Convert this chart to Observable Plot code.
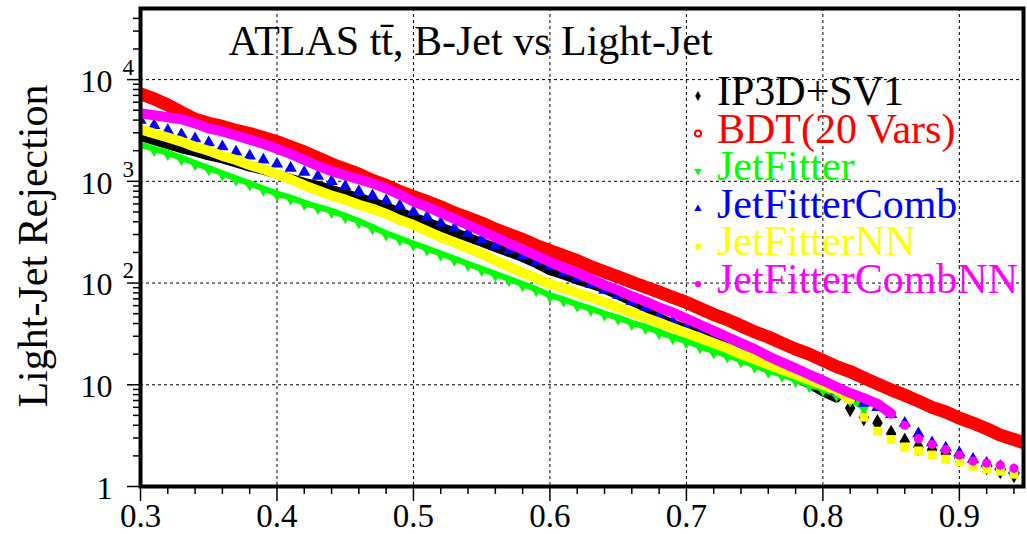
<!DOCTYPE html>
<html>
<head>
<meta charset="utf-8">
<script src="https://cdn.jsdelivr.net/npm/d3@7"></script>
<script src="https://cdn.jsdelivr.net/npm/@observablehq/plot@0.6"></script>
<style>
  html, body { margin: 0; padding: 0; background: #fff; }
  #chart { width: 1027px; height: 534px; }
</style>
</head>
<body>
<div id="chart"></div>
<script>
// b-tagging efficiency (x) and light-jet rejection (y) for each tagger
const efficiency = [0.30,0.31,0.32,0.33,0.34,0.35,0.36,0.37,0.38,0.39,
                    0.40,0.41,0.42,0.43,0.44,0.45,0.46,0.47,0.48,0.49,
                    0.50,0.51,0.52,0.53,0.54,0.55,0.56,0.57,0.58,0.59,
                    0.60,0.61,0.62,0.63,0.64,0.65,0.66,0.67,0.68,0.69,
                    0.70,0.71,0.72,0.73,0.74,0.75,0.76,0.77,0.78,0.79,
                    0.80,0.81,0.82,0.83,0.84,0.85,0.86,0.87,0.88,0.89,
                    0.90,0.91,0.92,0.93,0.94,0.95];

const ip3dSv1 = [2754,2512,2291,2089,1950,1778,1660,1514,1380,1288,
                 1175,1072,977,912,832,759,692,631,562,501,
                 447,398,355,316,282,251,224,200,178,155,
                 132,120,107,97.7,87.1,75.9,66.1,57.5,45.7,39.8,
                 35.5,31.6,28.8,25.7,22.4,20.0,17.0,14.1,11.7,10.2,
                 8.5,7.4,5.9,4.8,4.2,3.3,2.75,2.45,2.3,2.1,
                 1.9,1.74,1.58,1.45,1.32,1.26];

const bdt20Vars = [7244,6457,5623,4786,4074,3715,3467,3162,2951,2692,
                   2455,2188,1950,1698,1479,1318,1175,1023,912,794,
                   708,631,562,490,437,389,339,302,269,234,
                   209,186,166,145,129,115,102,91.2,81.3,72.4,
                   64.6,56.2,49.0,43.7,38.0,33.1,29.5,25.7,22.4,20.0,
                   17.4,15.1,13.5,11.7,10.2,8.9,7.9,6.9,6.0,5.4,
                   4.7,4.2,3.7,3.2,2.9,2.6];

const jetFitter = [2291,2089,1905,1698,1514,1349,1202,1072,955,851,
                   759,692,617,562,513,457,407,355,309,275,
                   245,219,195,174,155,138,123,110,97.7,87.1,
                   75.9,69.2,61.7,56.2,50.1,45.7,40.7,37.2,33.1,29.5,
                   26.9,24.0,21.4,19.5,17.4,15.5,13.8,12.6,11.2,10.0,
                   9.1,8.1,7.2,6.0,5.0,4.0,3.2,2.7,2.34,2.1,
                   1.86,1.70,1.55,1.45,1.35,1.26];

const jetFitterComb = [3981,3548,3162,2884,2630,2399,2188,1950,1778,1622,
                       1479,1349,1230,1122,1000,891,794,724,646,575,
                       501,447,389,347,309,269,234,209,186,162,
                       145,126,112,97.7,85.1,75.9,66.1,57.5,47.9,41.7,
                       36.3,32.4,28.8,26.3,22.9,20.4,17.8,15.5,13.2,11.5,
                       10.0,8.7,7.4,6.6,6.0,5.1,4.2,3.3,2.7,2.4,
                       2.14,1.86,1.70,1.58,1.45,1.35];

const jetFitterNN = [3236,2951,2692,2455,2188,1995,1778,1622,1445,1318,
                     1175,1047,912,813,724,661,589,537,479,417,
                     372,324,282,251,219,195,166,145,126,112,
                     97.7,89.1,79.4,72.4,64.6,57.5,51.3,45.7,40.7,36.3,
                     32.4,28.8,25.7,22.9,20.0,17.8,15.8,14.1,12.6,11.2,
                     10.0,8.9,7.2,4.8,3.5,2.9,2.45,2.24,2.04,1.86,
                     1.74,1.58,1.48,1.41,1.32,1.26];

const jetFitterCombNN = [4677,4467,4266,4074,3715,3311,3090,2818,2570,2344,
                         2089,1862,1622,1413,1259,1148,1047,955,851,741,
                         631,562,490,427,372,324,282,245,214,186,
                         162,141,126,110,95.5,85.1,74.1,66.1,57.5,51.3,
                         44.7,38.9,33.9,29.5,25.7,22.4,19.1,16.6,14.5,12.6,
                         11.0,9.5,8.3,7.4,6.5,5.2,4.0,2.95,2.6,2.3,
                         2.04,1.78,1.70,1.62,1.51,1.45];

const taggerNames = ["IP3D+SV1", "BDT(20 Vars)", "JetFitter", "JetFitterComb", "JetFitterNN", "JetFitterCombNN"];

const xMajorTicks = [0.3, 0.4, 0.5, 0.6, 0.7, 0.8, 0.9];
const xTickLabels = ["0.3", "0.4", "0.5", "0.6", "0.7", "0.8", "0.9"];
const xMinorTicks = [0.32,0.34,0.36,0.38,0.42,0.44,0.46,0.48,0.52,0.54,0.56,0.58,
                     0.62,0.64,0.66,0.68,0.72,0.74,0.76,0.78,0.82,0.84,0.86,0.88,0.92,0.94];
const yDecades = [1, 10, 100, 1000, 10000];
const yMinorTicks = [2,3,4,5,6,7,8,9,20,30,40,50,60,70,80,90,
                     200,300,400,500,600,700,800,900,
                     2000,3000,4000,5000,6000,7000,8000,9000,20000,30000,40000];

const titleText = "ATLAS t\u0074\u0304, B-Jet vs Light-Jet";
const yTitle = "Light-Jet Rejection";

const serif = "Liberation Serif, Times New Roman, DejaVu Serif, serif";

const rows = (vals) => efficiency.map((x, i) => ({x, y: vals[i]}));

// solid band drawn under the markers, up to where the markers separate
const band = (vals, color, width, end) =>
  Plot.line(rows(vals), {
    x: "x", y: "y", filter: d => d.x <= end + 1e-9,
    stroke: color, strokeWidth: width, strokeLinejoin: "round", strokeLinecap: "round", clip: true
  });

const markers = (vals, opts) =>
  Plot.dot(rows(vals), {x: "x", y: "y", clip: true, ...opts});

const plot = Plot.plot({
  width: 1027,
  height: 534,
  marginLeft: 140,
  marginRight: 4,
  marginTop: 8,
  marginBottom: 48,
  x: {domain: [0.3, 0.947], axis: null},
  y: {type: "log", domain: [1, 50000], axis: null},
  style: {background: "#fff", color: "black"},
  marks: [
    // dashed grid at the major ticks
    Plot.gridX({ticks: xMajorTicks.slice(1), stroke: "black", strokeOpacity: 1, strokeWidth: 1, strokeDasharray: "3,3"}),
    Plot.gridY({ticks: yDecades.slice(1), stroke: "black", strokeOpacity: 1, strokeWidth: 1, strokeDasharray: "3,3"}),

    // IP3D+SV1
    band(ip3dSv1, "black", 9, 0.815),
    markers(ip3dSv1, {symbol: "diamond", r: 5.5, fill: "black", filter: d => d.x > 0.81}),

    // BDT (20 Vars)
    band(bdt20Vars, "#ff0000", 13, 0.96),

    // JetFitter
    band(jetFitter, "#00ff00", 6, 0.83),
    markers(jetFitter, {symbol: "triangle", r: 4, rotate: 180, dy: 2, fill: "#00ff00", filter: d => d.x <= 0.83}),

    // JetFitterComb
    markers(jetFitterComb, {symbol: "triangle", r: 4.6, fill: "#0000ff"}),

    // JetFitterNN
    band(jetFitterNN, "#ffff00", 10, 0.82),
    markers(jetFitterNN, {symbol: "square", r: 5, fill: "#ffff00", filter: d => d.x > 0.82}),

    // JetFitterCombNN
    band(jetFitterCombNN, "#ff00ff", 10, 0.85),
    markers(jetFitterCombNN, {symbol: "circle", r: 4.6, fill: "#ff00ff", filter: d => d.x > 0.84}),

    Plot.frame({stroke: "black", strokeWidth: 4}),

    // ticks outside the frame
    Plot.axisX({ticks: xMajorTicks, tickSize: 15, tickFormat: () => "", label: null, strokeWidth: 1.5, anchor: "bottom"}),
    Plot.axisX({ticks: xMinorTicks, tickSize: 8, tickFormat: () => "", label: null, strokeWidth: 1.5, anchor: "bottom"}),
    Plot.axisY({ticks: yDecades, tickSize: 13, tickFormat: () => "", label: null, strokeWidth: 1.5, anchor: "left"}),
    Plot.axisY({ticks: yMinorTicks, tickSize: 7, tickFormat: () => "", label: null, strokeWidth: 1.5, anchor: "left"}),

    // x tick labels
    Plot.text(xMajorTicks, {x: d => d, text: (d, i) => xTickLabels[i], frameAnchor: "bottom",
      lineAnchor: "top", dy: 17, fontSize: 33, fontFamily: serif, fill: "black"}),

    // y tick labels: mantissa and raised exponent
    Plot.text(yDecades, {y: d => d, text: d => d >= 100 ? "10" : String(d), frameAnchor: "left",
      textAnchor: "end", lineAnchor: "middle", dx: -28, dy: 2, fontSize: 32, fontFamily: serif, fill: "black"}),
    Plot.text(yDecades.filter(d => d >= 100), {y: d => d, text: d => String(Math.round(Math.log10(d))),
      frameAnchor: "left", textAnchor: "start", lineAnchor: "middle", dx: -18, dy: -12,
      fontSize: 23, fontFamily: serif, fill: "black"}),

    // title inside the frame
    Plot.text([titleText], {text: d => d, frameAnchor: "top-left", textAnchor: "start", lineAnchor: "top",
      dx: 88, dy: 17, fontSize: 42, fontFamily: serif, fill: "black"})
  ]
});

document.getElementById("chart").appendChild(plot);

const svg = d3.select(plot);

// y-axis title
svg.append("text")
  .attr("transform", "rotate(-90)")
  .attr("x", -246)
  .attr("y", 47)
  .attr("text-anchor", "middle")
  .attr("fill", "black")
  .style("font-family", serif)
  .style("font-size", "42px")
  .text(yTitle);

// legend
const legendStyle = [
  {color: "black",   shape: d3.symbolDiamond,  size: 28, fill: true,  rotate: 0},
  {color: "#ff0000", shape: d3.symbolCircle,   size: 28, fill: false, rotate: 0},
  {color: "#00ff00", shape: d3.symbolTriangle, size: 24, fill: true,  rotate: 180},
  {color: "#0000ff", shape: d3.symbolTriangle, size: 24, fill: true,  rotate: 0},
  {color: "#ffff00", shape: d3.symbolSquare,   size: 30, fill: true,  rotate: 0},
  {color: "#ff00ff", shape: d3.symbolCircle,   size: 30, fill: true,  rotate: 0}
];
const legend = svg.append("g");
taggerNames.forEach((name, i) => {
  const s = legendStyle[i];
  const base = 105 + i * 37.6;
  legend.append("path")
    .attr("d", d3.symbol(s.shape, s.size)())
    .attr("transform", `translate(698,${base - 9}) rotate(${s.rotate})`)
    .attr("fill", s.fill ? s.color : "none")
    .attr("stroke", s.fill ? "none" : s.color)
    .attr("stroke-width", s.fill ? 0 : 2);
  legend.append("text")
    .attr("x", 717)
    .attr("y", base)
    .attr("text-anchor", "start")
    .attr("fill", s.color)
    .style("font-family", serif)
    .style("font-size", "42px")
    .text(name);
});
</script>
</body>
</html>
